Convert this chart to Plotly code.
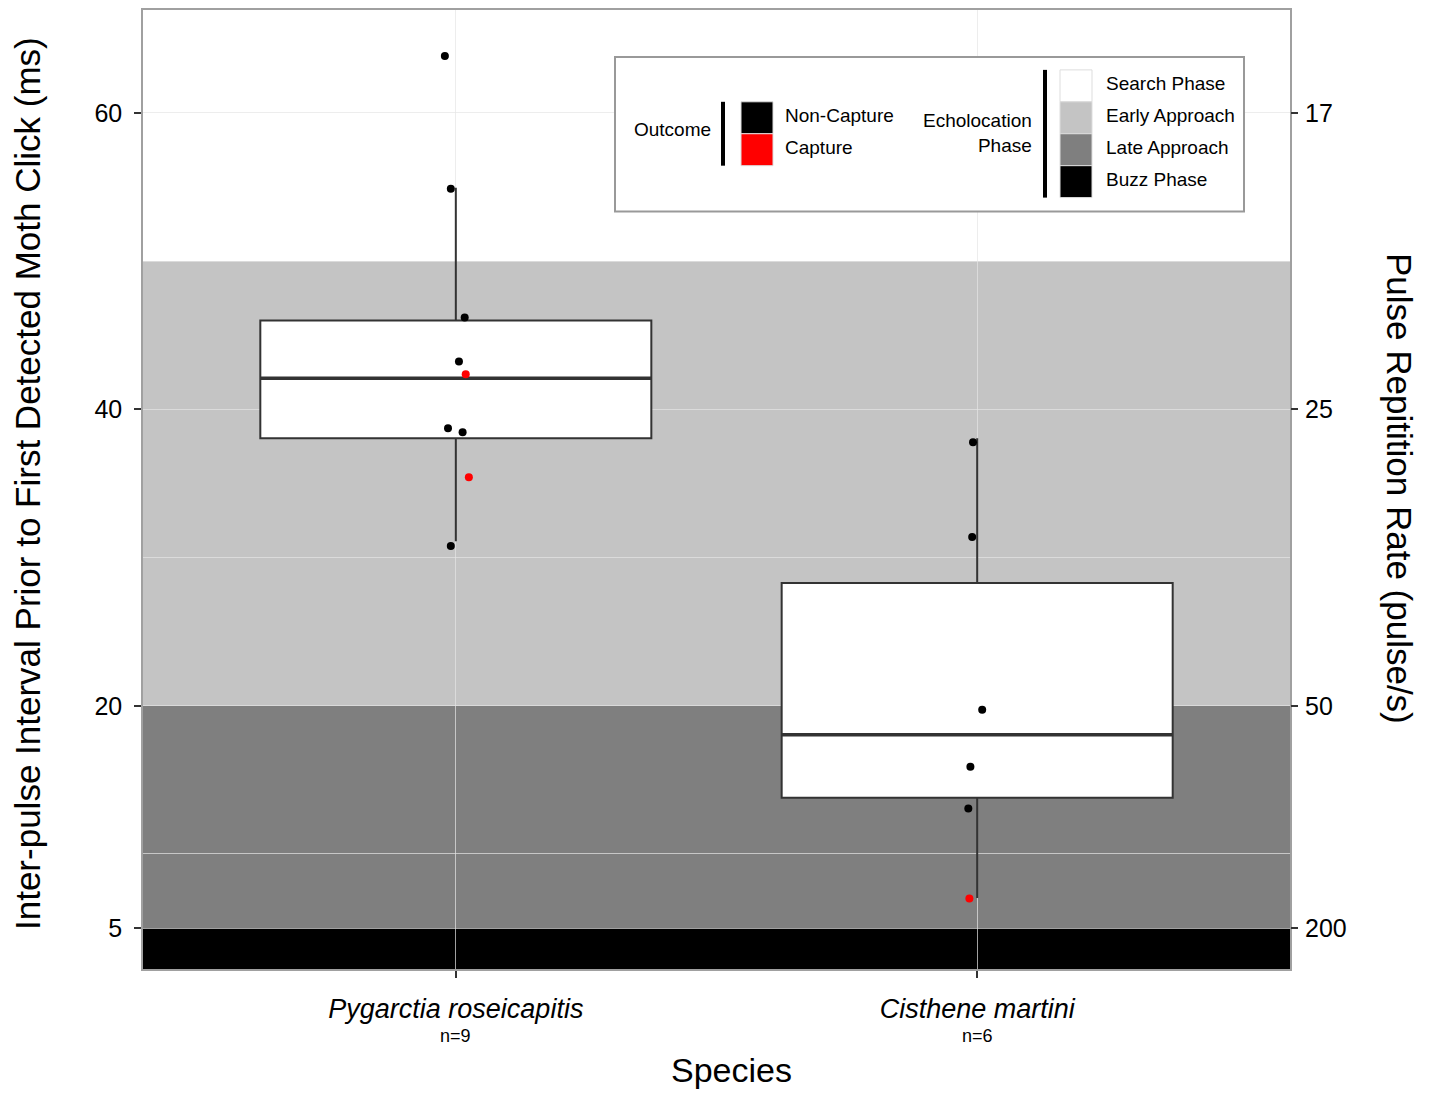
import plotly.graph_objects as go

# ---------------- data ----------------
species = ["Pygarctia roseicapitis", "Cisthene martini"]
species_n = [9, 6]
species_pos = [1, 2]

# box statistics (ms)
box_q1 = [38.05, 13.8]
box_median = [42.09, 18.05]
box_q3 = [45.99, 28.28]
box_low = [31.1, 7.03]
box_high = [54.95, 38.05]
box_width = 0.75

# individual (jittered) points
pt_species = [0, 0, 0, 0, 0, 0, 0, 0, 0, 1, 1, 1, 1, 1, 1]
pt_jitter = [-0.021, -0.0096, 0.017, 0.006, 0.019, -0.015, 0.013, 0.025, -0.0096,
             -0.008, -0.0096, 0.0096, -0.013, -0.017, -0.015]
pt_ipi = [63.84, 54.88, 46.2, 43.23, 42.36, 38.72, 38.45, 35.42, 30.77,
          37.78, 31.38, 19.73, 15.89, 13.06, 7.0]
pt_outcome = ["Non-Capture", "Non-Capture", "Non-Capture", "Non-Capture", "Capture",
              "Non-Capture", "Non-Capture", "Capture", "Non-Capture",
              "Non-Capture", "Non-Capture", "Non-Capture", "Non-Capture", "Non-Capture", "Capture"]

outcome_labels = ["Non-Capture", "Capture"]
outcome_colors = ["#000000", "#ff0000"]

phase_labels = ["Search Phase", "Early Approach", "Late Approach", "Buzz Phase"]
phase_colors = ["#ffffff", "#c4c4c4", "#7f7f7f", "#000000"]
phase_bounds = [50, 20, 5]   # IPI (ms) boundaries between phases

y_ticks = [5, 20, 40, 60]
y_minor = [10, 30, 50]
y_range = [2.24, 66.94]
x_range = [0.4, 2.6]

# ---------------- layout geometry (page pixels) ----------------
BODY = 8                      # default html body margin
L, R, T, B = 143, 1290, 8, 969  # plot area on the page
W, H = 1434 - 2 * BODY, 1097 - 2 * BODY
ML, MT = L - BODY, T - BODY
MR, MB = W - (R - BODY), H - (B - BODY)


def px(x):
    return (x - L) / (R - L)


def py(y):
    return (B - y) / (B - T)


FONT = "Liberation Sans, Arial, sans-serif"
fig = go.Figure()

# phase bands
edges = [y_range[1]] + phase_bounds + [y_range[0]]
shapes = []
for i, col in enumerate(phase_colors):
    shapes.append(dict(type="rect", xref="paper", yref="y", x0=0, x1=1,
                       y0=edges[i + 1], y1=edges[i], fillcolor=col,
                       line=dict(width=0), layer="below"))

# boxes
for i in range(len(species)):
    fig.add_trace(go.Box(
        x=[species_pos[i]], q1=[box_q1[i]], median=[box_median[i]], q3=[box_q3[i]],
        lowerfence=[box_low[i]], upperfence=[box_high[i]],
        width=box_width, whiskerwidth=0, boxpoints=False,
        fillcolor="white", line=dict(color="#333333", width=2),
        showlegend=False, hoverinfo="skip"))
    fig.add_trace(go.Scatter(
        x=[species_pos[i] - box_width / 2, species_pos[i] + box_width / 2],
        y=[box_median[i], box_median[i]], mode="lines",
        line=dict(color="#333333", width=3.5), showlegend=False, hoverinfo="skip"))

# points
cmap = dict(zip(outcome_labels, outcome_colors))
fig.add_trace(go.Scatter(
    x=[species_pos[s] + j for s, j in zip(pt_species, pt_jitter)],
    y=pt_ipi, mode="markers",
    marker=dict(size=8, color=[cmap[o] for o in pt_outcome], line=dict(width=0)),
    showlegend=False, hoverinfo="skip"))

# invisible trace for secondary axis
fig.add_trace(go.Scatter(x=[species_pos[0]], y=[y_ticks[0]], yaxis="y2", mode="markers",
                         marker=dict(opacity=0), showlegend=False, hoverinfo="skip"))

grid_col = "rgba(230,230,230,0.7)"
tickfont = dict(family=FONT, size=25, color="#000000")

fig.update_layout(
    width=W, height=H,
    margin=dict(l=ML, r=MR, t=MT, b=MB, pad=0),
    plot_bgcolor="white", paper_bgcolor="white",
    font=dict(family=FONT, color="#000000"),
    xaxis=dict(range=x_range, tickvals=species_pos,
               ticktext=[f"<i>{s}</i>" for s in species],
               tickfont=dict(family=FONT, size=27, color="#000000"),
               ticklabelstandoff=8,
               showgrid=True, gridcolor=grid_col, gridwidth=1,
               ticks="outside", ticklen=7, tickwidth=1.5, tickcolor="#333333",
               showline=True, mirror=True, linecolor="#a0a0a0", linewidth=1.5,
               zeroline=False),
    yaxis=dict(range=y_range, tickvals=y_ticks, ticktext=[str(v) for v in y_ticks],
               tickfont=tickfont, showgrid=True, gridcolor=grid_col, gridwidth=1,
               minor=dict(tickvals=y_minor, showgrid=True, gridcolor=grid_col, gridwidth=1, ticks=""),
               ticks="outside", ticklen=7, tickwidth=1.5, tickcolor="#333333",
               ticklabelstandoff=7,
               showline=True, mirror=True, linecolor="#a0a0a0", linewidth=1.5,
               zeroline=False),
    yaxis2=dict(range=y_range, overlaying="y", side="right", tickvals=y_ticks,
                ticktext=[str(round(1000 / v)) for v in y_ticks], tickfont=tickfont,
                showgrid=False, zeroline=False, ticklabelstandoff=2,
                ticks="outside", ticklen=7, tickwidth=1.5, tickcolor="#333333"),
)


def ann(text, x, y, size, xanchor="center", **kw):
    return dict(text=text, x=px(x), y=py(y), xref="paper", yref="paper",
                xanchor=xanchor, yanchor="middle", showarrow=False,
                font=dict(family=FONT, size=size, color="#000000"), **kw)


annotations = [
    ann("Inter-pulse Interval Prior to First Detected Moth Click (ms)", 27, 483, 35, textangle=-90),
    ann("Pulse Repitition Rate (pulse/s)", 1400, 487, 35, textangle=90),
    ann("Species", 731, 1070, 34),
]
# sample sizes below the species names
for pos, n in zip(species_pos, species_n):
    annotations.append(dict(text=f"n={n}", x=pos, y=py(1036), xref="x", yref="paper",
                            xanchor="center", yanchor="middle", showarrow=False,
                            font=dict(family=FONT, size=18, color="#000000")))

# ---------- custom legend ----------
leg_shapes = [dict(type="rect", xref="paper", yref="paper", x0=px(615), x1=px(1244),
                   y0=py(210), y1=py(55), fillcolor="white",
                   line=dict(color="#999999", width=2), layer="above")]
LF = 19
annotations.append(ann("Outcome", 632, 128, LF, xanchor="left"))
leg_shapes.append(dict(type="rect", xref="paper", yref="paper", x0=px(721), x1=px(725),
                       y0=py(164), y1=py(100), fillcolor="black", line=dict(width=0), layer="above"))
for i, (lab, col) in enumerate(zip(outcome_labels, outcome_colors)):
    top = 100 + 32 * i
    leg_shapes.append(dict(type="rect", xref="paper", yref="paper", x0=px(741), x1=px(773),
                           y0=py(top + 32), y1=py(top), fillcolor=col,
                           line=dict(color="#dddddd", width=1), layer="above"))
    annotations.append(ann(lab, 783, top + 14, LF, xanchor="left"))
annotations.append(ann("Echolocation<br>Phase", 1034, 131, LF, xanchor="right", align="right"))
leg_shapes.append(dict(type="rect", xref="paper", yref="paper", x0=px(1043), x1=px(1047),
                       y0=py(196), y1=py(68), fillcolor="black", line=dict(width=0), layer="above"))
for i, (lab, col) in enumerate(zip(phase_labels, phase_colors)):
    top = 68 + 32 * i
    leg_shapes.append(dict(type="rect", xref="paper", yref="paper", x0=px(1060), x1=px(1092),
                           y0=py(top + 32), y1=py(top), fillcolor=col,
                           line=dict(color="#dddddd", width=1), layer="above"))
    annotations.append(ann(lab, 1104, top + 14, LF, xanchor="left"))

fig.update_layout(shapes=shapes + leg_shapes, annotations=annotations)

fig.write_html("out.html")
